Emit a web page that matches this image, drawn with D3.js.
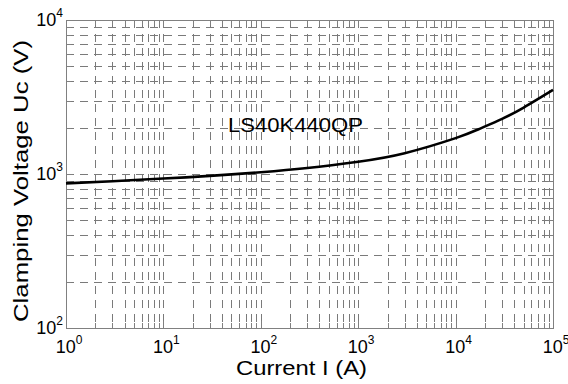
<!DOCTYPE html>
<html><head><meta charset="utf-8">
<script src="https://cdn.jsdelivr.net/npm/d3@7"></script>
<style>
body{margin:0;background:#fff;}
svg{display:block;}
text{font-family:"Liberation Sans",Arial,Helvetica,sans-serif;fill:#000;}
</style></head>
<body>
<svg id="chart" width="568" height="384"></svg>
<script>
// Data
const currentA = [1, 3, 10, 30, 100, 300, 1000, 3000, 10000, 17000, 30000, 50000, 100000];
const clampV   = [869, 898, 934, 972, 1027, 1094, 1202, 1365, 1710, 1946, 2281, 2700, 3515];
const xTickExps = [0, 1, 2, 3, 4, 5];
const yTickExps = [2, 3, 4];
const seriesLabel = "LS40K440QP";
const xTitle = "Current I (A)";
const yTitle = "Clamping Voltage Uc (V)";

const svg = d3.select("#chart");
const L = 66, R = 553, T = 20, B = 328;
const x = d3.scaleLog().domain([1, 1e5]).range([L, R]);
const y = d3.scaleLog().domain([100, 1e4]).range([B, T]);

const xAll = x.ticks();
const yAll = y.ticks();
const isMajor = v => Math.abs(Math.log10(v) - Math.round(Math.log10(v))) < 1e-9;

const grid = svg.append("g").attr("stroke", "#7a7a7a").attr("stroke-width", 1)
  .attr("stroke-dasharray", "8,6").attr("fill", "none");
grid.selectAll("line.v").data(xAll.filter(v => v > 1 && v < 1e5)).enter().append("line")
  .attr("x1", d => Math.round(x(d)) + 0.5).attr("x2", d => Math.round(x(d)) + 0.5)
  .attr("y1", T).attr("y2", B);
grid.selectAll("line.h").data(yAll.filter(v => v > 100 && v < 1e4)).enter().append("line")
  .attr("y1", d => Math.round(y(d)) + 0.5).attr("y2", d => Math.round(y(d)) + 0.5)
  .attr("x1", L).attr("x2", R);

// ticks inward on all sides
const tk = svg.append("g").attr("stroke", "#808080").attr("stroke-width", 1);
xAll.forEach(v => {
  const px = Math.round(x(v)) + 0.5, len = isMajor(v) ? 7 : 5;
  tk.append("line").attr("x1", px).attr("x2", px).attr("y1", B).attr("y2", B - len);
  tk.append("line").attr("x1", px).attr("x2", px).attr("y1", T).attr("y2", T + len);
});
yAll.forEach(v => {
  const py = Math.round(y(v)) + 0.5, len = isMajor(v) ? 7 : 5;
  tk.append("line").attr("y1", py).attr("y2", py).attr("x1", L).attr("x2", L + len);
  tk.append("line").attr("y1", py).attr("y2", py).attr("x1", R).attr("x2", R - len);
});

// frame
svg.append("rect").attr("x", L + 0.5).attr("y", T + 0.5).attr("width", R - L).attr("height", B - T)
  .attr("fill", "none").attr("stroke", "#808080").attr("stroke-width", 1);

// curve
const pts = currentA.map((c, i) => [c, clampV[i]]);
svg.append("path").datum(pts)
  .attr("d", d3.line().x(d => x(d[0])).y(d => y(d[1])).curve(d3.curveNatural))
  .attr("fill", "none").attr("stroke", "#000").attr("stroke-width", 2.6);

// tick labels
xTickExps.forEach(e => {
  const t = svg.append("text").attr("x", x(Math.pow(10, e)) + 3).attr("y", 353)
    .attr("text-anchor", "middle").attr("font-size", 18);
  t.append("tspan").text("10");
  t.append("tspan").attr("dy", -9).attr("font-size", 12).text(String(e));
});
yTickExps.forEach(e => {
  const t = svg.append("text").attr("x", 63).attr("y", y(Math.pow(10, e)) + 5.5)
    .attr("text-anchor", "end").attr("font-size", 18);
  t.append("tspan").text("10");
  t.append("tspan").attr("dy", -9).attr("font-size", 12).text(String(e));
});

// annotation
svg.append("text").attr("x", 228).attr("y", 132).attr("font-size", 21)
  .attr("textLength", 135).attr("lengthAdjust", "spacingAndGlyphs").text(seriesLabel);

// axis titles
svg.append("text").attr("x", 236).attr("y", 375).attr("font-size", 21)
  .attr("textLength", 131).attr("lengthAdjust", "spacingAndGlyphs").text(xTitle);
svg.append("text").attr("transform", "translate(28,322) rotate(-90)")
  .attr("font-size", 21).attr("textLength", 282).attr("lengthAdjust", "spacingAndGlyphs")
  .text(yTitle);
</script>
</body></html>
